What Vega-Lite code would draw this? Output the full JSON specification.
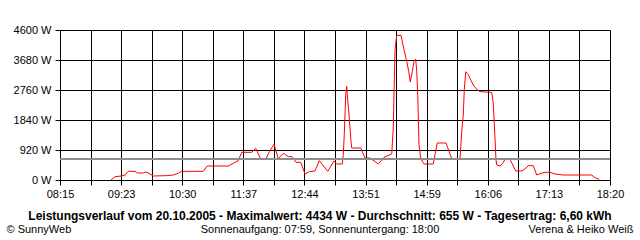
{
  "$schema": "https://vega.github.io/schema/vega-lite/v6.json",
  "width": 550,
  "height": 150,
  "autosize": {"type": "none"},
  "padding": {"left": 60, "top": 30, "right": 30, "bottom": 60},
  "background": "white",
  "config": {"view": {"stroke": null}, "font": "Liberation Sans"},
  "title": {
    "text": "Leistungsverlauf vom 20.10.2005 - Maximalwert: 4434 W - Durchschnitt: 655 W - Tagesertrag: 6,60 kWh",
    "subtitle": "Sonnenaufgang: 07:59, Sonnenuntergang: 18:00",
    "orient": "bottom",
    "anchor": "middle",
    "frame": "group",
    "dx": -15,
    "dy": -23,
    "offset": 0,
    "font": "Liberation Sans",
    "fontSize": 12,
    "fontWeight": "bold",
    "color": "black",
    "subtitleFont": "Liberation Sans",
    "subtitleFontSize": 11,
    "subtitleColor": "black",
    "subtitlePadding": 1
  },
  "data": {
    "values": [
      {"minute": 551.1, "watt": 0},
      {"minute": 555.5, "watt": 100},
      {"minute": 562.1, "watt": 123},
      {"minute": 566.5, "watt": 153},
      {"minute": 570.1, "watt": 266},
      {"minute": 577.5, "watt": 266},
      {"minute": 580.0, "watt": 215},
      {"minute": 586.6, "watt": 215},
      {"minute": 589.3, "watt": 245},
      {"minute": 592.9, "watt": 204},
      {"minute": 597.6, "watt": 123},
      {"minute": 612.4, "watt": 133},
      {"minute": 619.6, "watt": 153},
      {"minute": 625.1, "watt": 204},
      {"minute": 628.9, "watt": 266},
      {"minute": 652.6, "watt": 266},
      {"minute": 657.0, "watt": 429},
      {"minute": 680.1, "watt": 429},
      {"minute": 685.6, "watt": 511},
      {"minute": 691.1, "watt": 593},
      {"minute": 694.9, "watt": 849},
      {"minute": 705.9, "watt": 849},
      {"minute": 710.3, "watt": 971},
      {"minute": 715.8, "watt": 644},
      {"minute": 721.6, "watt": 644},
      {"minute": 725.2, "watt": 869},
      {"minute": 730.4, "watt": 1094},
      {"minute": 735.1, "watt": 654},
      {"minute": 740.6, "watt": 818},
      {"minute": 746.1, "watt": 716},
      {"minute": 750.2, "watt": 716},
      {"minute": 754.6, "watt": 542},
      {"minute": 759.8, "watt": 542},
      {"minute": 764.5, "watt": 184},
      {"minute": 769.2, "watt": 255},
      {"minute": 775.5, "watt": 276},
      {"minute": 780.2, "watt": 593},
      {"minute": 789.5, "watt": 266},
      {"minute": 796.4, "watt": 583},
      {"minute": 799.4, "watt": 491},
      {"minute": 805.5, "watt": 491},
      {"minute": 806.6, "watt": 777},
      {"minute": 807.7, "watt": 1390},
      {"minute": 809.3, "watt": 2617},
      {"minute": 810.4, "watt": 2873},
      {"minute": 811.0, "watt": 2617},
      {"minute": 813.2, "watt": 1901},
      {"minute": 815.1, "watt": 1186},
      {"minute": 815.9, "watt": 981},
      {"minute": 825.8, "watt": 981},
      {"minute": 830.5, "watt": 675},
      {"minute": 836.0, "watt": 675},
      {"minute": 845.1, "watt": 491},
      {"minute": 851.4, "watt": 695},
      {"minute": 859.9, "watt": 797},
      {"minute": 861.6, "watt": 1595},
      {"minute": 863.5, "watt": 3997},
      {"minute": 865.4, "watt": 4434},
      {"minute": 870.1, "watt": 4434},
      {"minute": 873.4, "watt": 3997},
      {"minute": 876.4, "watt": 3639},
      {"minute": 878.6, "watt": 3332},
      {"minute": 880.3, "watt": 3005},
      {"minute": 882.5, "watt": 3332},
      {"minute": 884.4, "watt": 3639},
      {"minute": 886.3, "watt": 3711},
      {"minute": 887.4, "watt": 3332},
      {"minute": 888.5, "watt": 2617},
      {"minute": 889.9, "watt": 1084},
      {"minute": 891.8, "watt": 654},
      {"minute": 895.4, "watt": 491},
      {"minute": 905.6, "watt": 491},
      {"minute": 907.5, "watt": 777},
      {"minute": 910.0, "watt": 1135},
      {"minute": 919.6, "watt": 1135},
      {"minute": 925.9, "watt": 654},
      {"minute": 935.0, "watt": 644},
      {"minute": 936.9, "watt": 1482},
      {"minute": 938.6, "watt": 1993},
      {"minute": 939.7, "watt": 2760},
      {"minute": 941.3, "watt": 3322},
      {"minute": 944.1, "watt": 3240},
      {"minute": 946.8, "watt": 3067},
      {"minute": 949.6, "watt": 2913},
      {"minute": 953.4, "watt": 2780},
      {"minute": 957.0, "watt": 2709},
      {"minute": 969.9, "watt": 2688},
      {"minute": 971.6, "watt": 2351},
      {"minute": 973.5, "watt": 1278},
      {"minute": 974.6, "watt": 613},
      {"minute": 975.4, "watt": 460},
      {"minute": 979.0, "watt": 429},
      {"minute": 982.0, "watt": 511},
      {"minute": 984.5, "watt": 634},
      {"minute": 990.0, "watt": 634},
      {"minute": 993.6, "watt": 429},
      {"minute": 996.3, "watt": 276},
      {"minute": 1002.9, "watt": 276},
      {"minute": 1007.3, "watt": 358},
      {"minute": 1010.1, "watt": 440},
      {"minute": 1015.6, "watt": 440},
      {"minute": 1019.4, "watt": 153},
      {"minute": 1024.1, "watt": 204},
      {"minute": 1028.5, "watt": 235},
      {"minute": 1034.0, "watt": 235},
      {"minute": 1039.5, "watt": 184},
      {"minute": 1048.6, "watt": 153},
      {"minute": 1079.9, "watt": 153},
      {"minute": 1083.5, "watt": 72},
      {"minute": 1088.2, "watt": 20}
    ]
  },
  "layer": [
    {
      "mark": {"type": "line", "color": "#ff0000", "strokeWidth": 1, "interpolate": "linear"},
      "encoding": {
        "x": {
          "field": "minute",
          "type": "quantitative",
          "scale": {"domain": [495, 1100], "nice": false, "zero": false},
          "axis": {
            "values": [495, 528.6111, 562.2222, 595.8333, 629.4444, 663.0556, 696.6667, 730.2778, 763.8889, 797.5, 831.1111, 864.7222, 898.3333, 931.9444, 965.5556, 999.1667, 1032.7778, 1066.3889, 1100],
            "tickCount": 100,
            "labelExpr": "['08:15','','09:23','','10:30','','11:37','','12:44','','13:51','','14:59','','16:06','','17:13','','18:20'][round((datum.value-495)/33.61111)]",
            "labelOverlap": false,
            "labelFlush": false,
            "labelFont": "Liberation Sans",
            "labelFontSize": 11,
            "labelColor": "black",
            "labelPadding": 3,
            "tickColor": "black",
            "tickSize": 5,
            "tickWidth": 1,
            "grid": true,
            "gridColor": "black",
            "gridWidth": 1,
            "gridOpacity": 1,
            "domain": false,
            "title": "© SunnyWeb",
            "titleFont": "Liberation Sans",
            "titleFontSize": 11,
            "titleFontWeight": "normal",
            "titleColor": "black",
            "titleAnchor": "start",
            "titleAlign": "left",
            "titleBaseline": "middle",
            "titleX": -54,
            "titleY": 49
          }
        },
        "y": {
          "field": "watt",
          "type": "quantitative",
          "scale": {"domain": [0, 4600], "nice": false, "zero": true},
          "axis": {
            "values": [0, 920, 1840, 2760, 3680, 4600],
            "tickCount": 100,
            "labelExpr": "datum.value + ' W'",
            "labelOverlap": false,
            "labelFlush": false,
            "labelFont": "Liberation Sans",
            "labelFontSize": 11,
            "labelColor": "black",
            "labelPadding": 4,
            "tickColor": "black",
            "tickSize": 5,
            "tickWidth": 1,
            "grid": true,
            "gridColor": "black",
            "gridWidth": 1,
            "gridOpacity": 1,
            "domain": false,
            "title": "Verena & Heiko Weiß",
            "titleFont": "Liberation Sans",
            "titleFontSize": 11,
            "titleFontWeight": "normal",
            "titleColor": "black",
            "titleAngle": 0,
            "titleAnchor": "start",
            "titleAlign": "right",
            "titleBaseline": "middle",
            "titleX": 573,
            "titleY": 199
          }
        }
      }
    },
    {
      "mark": {"type": "rule", "color": "#8c8c8c", "strokeWidth": 1},
      "encoding": {"y": {"datum": 655}}
    }
  ]
}
